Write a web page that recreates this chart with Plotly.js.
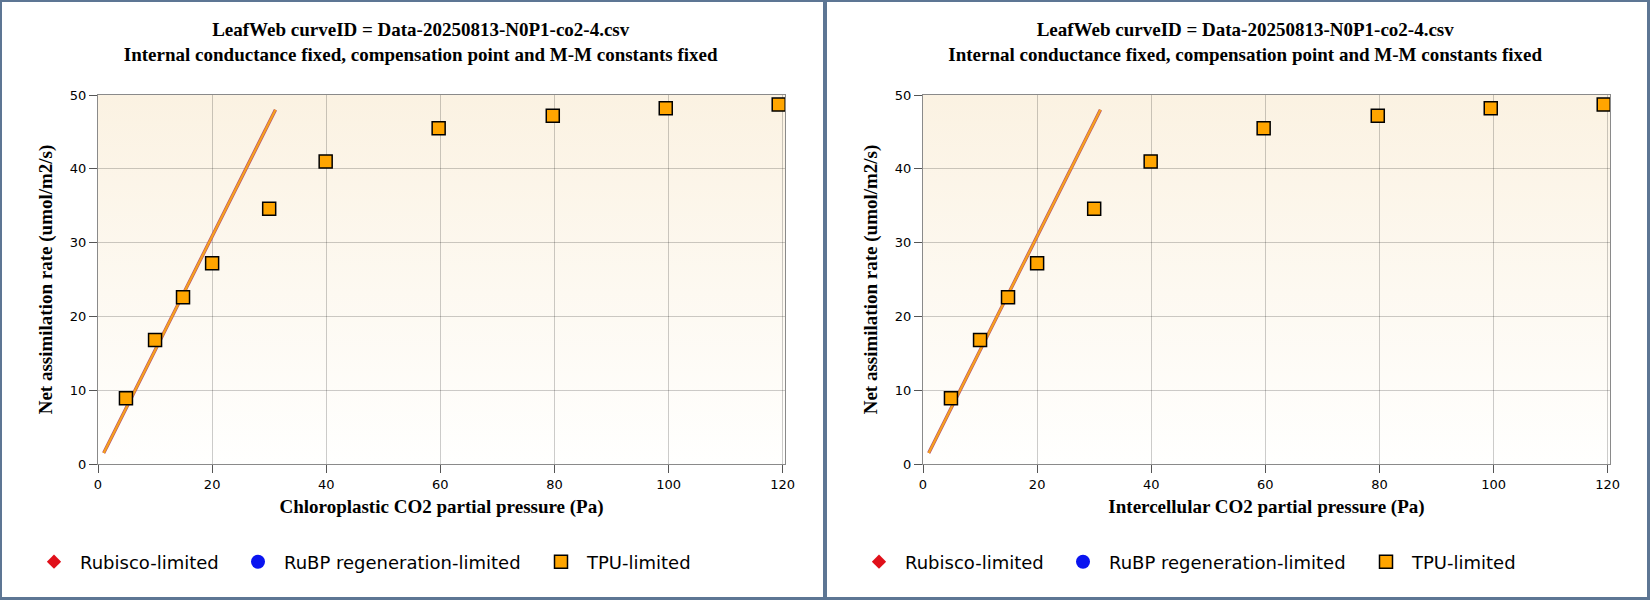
<!DOCTYPE html>
<html>
<head>
<meta charset="utf-8">
<script src="https://cdn.plot.ly/plotly-3.0.1.min.js"></script>
<style>
  html, body { margin: 0; padding: 0; }
  body { width: 1650px; height: 600px; background: #5d7694; position: relative; overflow: hidden; }
  .panel { position: absolute; top: 2px; height: 595px; background: #fff; }
  #left { left: 2px; width: 821px; }
  #right { left: 827px; width: 820px; }
</style>
</head>
<body>
<div id="left" class="panel"></div>
<div id="right" class="panel"></div>
<script>
// measured points (Pa, umol/m2/s), all TPU-limited
var ciValues = [4.9, 10.0, 14.9, 20.0, 30.0, 39.9, 59.7, 79.7, 99.5, 119.3];
var anValues = [8.9, 16.8, 22.6, 27.2, 34.6, 41.0, 45.5, 47.2, 48.2, 48.7];

// fitted limitation line
var fitX = [1.0, 31.1];
var fitY = [1.5, 48.0];

// legend-only series (no points in these categories)
var rubiscoX = [null], rubiscoY = [null];
var rubpX = [null], rubpY = [null];

var titleText = 'LeafWeb curveID = Data-20250813-N0P1-co2-4.csv<br>' +
  'Internal conductance fixed, compensation point and M-M constants fixed';
var xTitles = ['Chloroplastic CO2 partial pressure (Pa)', 'Intercellular CO2 partial pressure (Pa)'];
var yTitle = 'Net assimilation rate (umol/m2/s)';

var serif = 'Liberation Serif, Times New Roman, serif';
var sans = 'DejaVu Sans, Verdana, sans-serif';

// soft beige -> white background for the plot area
var grad = '<svg xmlns="http://www.w3.org/2000/svg" width="10" height="100" preserveAspectRatio="none">' +
  '<defs><linearGradient id="g" x1="0" y1="0" x2="0" y2="1">' +
  '<stop offset="0" stop-color="#fbf2e2"/><stop offset="1" stop-color="#fffffe"/>' +
  '</linearGradient></defs><rect width="10" height="100" fill="url(#g)"/></svg>';
var gradSrc = 'data:image/svg+xml;base64,' + btoa(grad);

function drawPanel(id, xTitle, width) {
  var data = [
    {
      x: fitX, y: fitY, type: 'scatter', mode: 'lines',
      line: {color: '#b4506e', width: 3.4}, showlegend: false, hoverinfo: 'skip'
    },
    {
      x: fitX, y: fitY, type: 'scatter', mode: 'lines',
      line: {color: '#f7a21c', width: 2.2}, showlegend: false, hoverinfo: 'skip'
    },
    {
      x: rubiscoX, y: rubiscoY, type: 'scatter', mode: 'markers', name: 'Rubisco-limited',
      marker: {symbol: 'diamond', color: '#e0101a', size: 11}, legend: 'legend'
    },
    {
      x: rubpX, y: rubpY, type: 'scatter', mode: 'markers', name: 'RuBP regeneration-limited',
      marker: {symbol: 'circle', color: '#0a14f0', size: 14}, legend: 'legend2'
    },
    {
      x: ciValues, y: anValues, type: 'scatter', mode: 'markers', name: 'TPU-limited',
      marker: {symbol: 'square', color: '#ffa500', size: 13, line: {color: '#000', width: 1.5}},
      legend: 'legend3'
    }
  ];

  function leg(symX) {
    return {
      xref: 'container', yref: 'container',
      x: (symX - 26) / width, xanchor: 'left',
      y: 1 - 560 / 595, yanchor: 'middle',
      orientation: 'h', itemwidth: 42,
      font: {family: sans, size: 18, color: '#000'},
      bgcolor: 'rgba(0,0,0,0)'
    };
  }

  var axisCommon = {
    showline: true, linecolor: '#8a8a8a', linewidth: 1, mirror: true,
    showgrid: true, gridcolor: 'rgba(0,0,0,0.2)', gridwidth: 1,
    zeroline: false,
    ticks: 'outside', ticklen: 8, tickcolor: '#555',
    tickfont: {family: sans, size: 13, color: '#000'}
  };

  var layout = {
    width: width, height: 595,
    margin: {l: 96, r: width - 783, t: 93, b: 133},
    paper_bgcolor: '#fff',
    plot_bgcolor: 'rgba(0,0,0,0)',
    title: {
      text: titleText, font: {family: serif, size: 19, color: '#000', weight: 'bold'},
      x: 0.51, xref: 'container', y: 1 - 34 / 595, yref: 'container', yanchor: 'top'
    },
    xaxis: Object.assign({}, axisCommon, {
      range: [0, 120.4], dtick: 20,
      title: {text: xTitle, font: {family: serif, size: 19, color: '#000', weight: 'bold'}, standoff: 9}
    }),
    yaxis: Object.assign({}, axisCommon, {
      range: [0, 50], dtick: 10,
      title: {text: yTitle, font: {family: serif, size: 19, color: '#000', weight: 'bold'}, standoff: 12}
    }),
    images: [{
      source: gradSrc, xref: 'x domain', yref: 'y domain',
      x: 0, y: 1, sizex: 1, sizey: 1, xanchor: 'left', yanchor: 'top',
      sizing: 'stretch', layer: 'below'
    }],
    legend: leg(52),
    legend2: leg(256),
    legend3: leg(559),
    showlegend: true
  };

  Plotly.newPlot(id, data, layout, {displayModeBar: false, staticPlot: true});
}

drawPanel('left', xTitles[0], 821);
drawPanel('right', xTitles[1], 820);
</script>
</body>
</html>
